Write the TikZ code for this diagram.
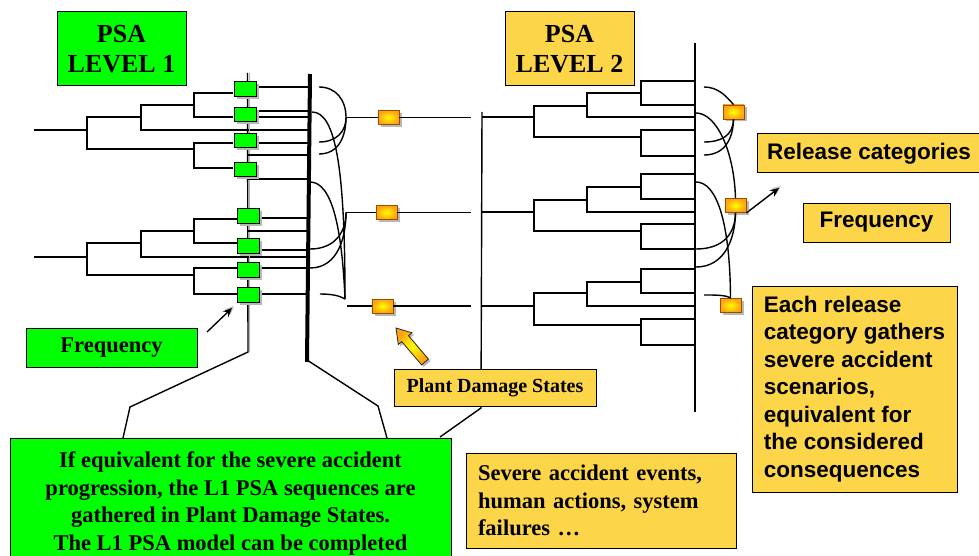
\documentclass[tikz,border=0pt]{standalone}
\usepackage{fontspec}
\setmainfont{Liberation Serif}
\newfontfamily\labelsans{Liberation Sans}
\usetikzlibrary{shadows,arrows.meta}
\definecolor{psagreen}{RGB}{0,255,0}
\definecolor{psayellow}{RGB}{252,213,72}
\definecolor{pdsorange}{RGB}{255,160,20}
\definecolor{pdsedge}{RGB}{150,80,0}
\begin{document}
\begin{tikzpicture}[x=1pt,y=-1pt,
  wire/.style={line width=1.4pt},
  boxshadow/.style={drop shadow={shadow xshift=2.5pt,shadow yshift=-2.5pt,fill=black!28,opacity=1}},
  seqbox/.style={draw, line width=0.9pt, fill=psagreen, minimum width=22pt, minimum height=14.5pt, inner sep=0pt, boxshadow},
  pdsbox/.style={draw=pdsedge, line width=0.9pt, inner color=yellow, outer color=pdsorange, minimum width=21pt, minimum height=14pt, inner sep=0pt, boxshadow},
  titlebox/.style={draw, line width=1pt, minimum width=129pt, minimum height=74pt, inner sep=0pt, align=center, font=\bfseries\fontsize{26}{30}\selectfont},
  serifnote/.style={draw, line width=1pt, fill=psayellow, inner sep=0pt, font=\bfseries\fontsize{22.5}{27.5}\selectfont},
  sansnote/.style={draw, line width=1pt, fill=psayellow, inner sep=0pt, font=\labelsans\bfseries\fontsize{22.5}{27.5}\selectfont},
  pointer/.style={line width=1.3pt, -{Stealth[length=9pt,width=8pt]}},
  pointershade/.style={line width=1.3pt, black!25, -{Stealth[length=9pt,width=8pt]}},
]
\useasboundingbox (0,0) rectangle (979,556);
\clip (0,0) rectangle (979,556);

% ---------- Level 1 event trees ----------
% upper tree
\draw[wire] (34,130) -- (87,130);
\draw[wire] (141,117) -| (87,149) -- (194,149);
\draw[wire] (194,105) -| (141,130) -- (308,130);
\draw[wire] (233,93) -| (194,117) -- (233,117);
\draw[wire] (233,143) -| (194,168) -- (233,168);
% lower tree
\draw[wire] (34,257) -- (87,257);
\draw[wire] (141,243) -| (87,275) -- (194,275);
\draw[wire] (194,231) -| (141,257) -- (307,257);
\draw[wire] (238,219) -| (194,243) -- (238,243);
\draw[wire] (238,268) -| (194,294) -- (238,294);

% sequence end line and bracket down to the note
\draw[line width=1.4pt, black!30] (249.5,73) -- (249.5,352);
\draw[wire] (247.5,73) -- (248,352) -- (130,407) -- (123,438);

% sequences reaching the plant damage state line
\foreach \y in {87,111,117,143} \draw[wire] (255,\y) -- (308,\y);
\foreach \y in {155,179,231} \draw[wire] (248,\y) -- (308,\y);
\foreach \y in {218,250,268,294} \draw[wire] (259,\y) -- (307,\y);

% heavy grouping line
\draw[line width=4pt] (310,74) -- (307,362);
\draw[wire] (307,360) -- (378,406) -- (387,438);

% grouping of L1 sequences into plant damage states
\coordinate (j1) at (346,117.5);
\coordinate (j2) at (346,212.5);
\coordinate (j3) at (345,299);
\draw[wire] (319,87) .. controls (336,87) and (346,100) .. (j1);
\draw[wire] (319,142) .. controls (336,142) and (346,132) .. (j1);
\draw[wire] (319,154) .. controls (339,154) and (346,136) .. (j1);
\draw[wire] (312,112) .. controls (336,112) and (345,170) .. (j3);
\draw[wire] (310,182) .. controls (332,182) and (342,228) .. (j3);
\draw[wire] (310,249) .. controls (335,249) and (346,232) .. (j2);
\draw[wire] (310,268) .. controls (338,268) and (346,237) .. (j2);
\draw[wire] (320,294) .. controls (333,294) and (340,296) .. (j3);

% plant damage state boxes
\node[pdsbox] (pds1) at (388.5,117.5) {};
\node[pdsbox] (pds2) at (386.5,212.5) {};
\node[pdsbox] (pds3) at (382.5,306) {};
\draw[wire] (j1) -- (pds1.west);
\draw[wire] (j2) -- (pds2.west);
\draw[wire] (347,306) -- (pds3.west);
\draw[wire] (pds1.east) -- (471,117.5);
\draw[wire] (pds2.east) -- (471,212.5);
\draw[wire] (pds3.east) -- (471,306);

% ---------- Level 2 trees ----------
\draw[wire] (482,112) -- (481,408) -- (440,437);
\draw[wire] (695,43) -- (695,412);
% tree 1
\draw[wire] (482,117) -- (534,117);
\draw[wire] (587,106) -| (534,137) -- (641,137);
\draw[wire] (641,93) -| (587,117) -- (695,117);
\draw[wire] (695,81) -| (641,105) -- (695,105);
\draw[wire] (695,130) -| (641,156) -- (695,156);
% tree 2
\draw[wire] (482,212) -- (534,212);
\draw[wire] (587,200) -| (534,231) -- (641,231);
\draw[wire] (641,187) -| (587,212) -- (695,212);
\draw[wire] (695,174) -| (641,199) -- (695,199);
\draw[wire] (695,224) -| (641,249) -- (695,249);
% tree 3
\draw[wire] (482,306) -- (534,306);
\draw[wire] (587,293) -| (534,325) -- (641,325);
\draw[wire] (641,282) -| (587,306) -- (695,306);
\draw[wire] (695,269) -| (641,293) -- (695,293);
\draw[wire] (695,319) -| (641,345) -- (695,345);

% release category boxes and their grouping curves
\node[pdsbox] (rc1) at (733.5,112) {};
\node[pdsbox] (rc2) at (735.5,205.5) {};
\node[pdsbox] (rc3) at (730.5,305.5) {};
\draw[wire] (704,87) .. controls (718,87) and (726,96) .. (rc1.north);
\draw[wire] (704,142) .. controls (722,142) and (733,135) .. (rc1.south);
\draw[wire] (704,155) .. controls (724,155) and (733,140) .. (rc1.south);
\draw[wire] (696,113) .. controls (716,113) and (734,150) .. (rc2.north);
\draw[wire] (696,249) .. controls (722,249) and (735,235) .. (rc2.south);
\draw[wire] (696,267) .. controls (724,267) and (735,240) .. (rc2.south);
\draw[wire] (696,182) .. controls (716,182) and (730,220) .. (rc3.north);
\draw[wire] (704,295) .. controls (716,295) and (726,295) .. (rc3.north);

% ---------- sequence boxes ----------
\node[seqbox] (s1) at (245,89) {};
\node[seqbox] (s2) at (245,114.5) {};
\node[seqbox] (s3) at (245,140.5) {};
\node[seqbox] (s4) at (245,169.5) {};
\node[seqbox] (s5) at (248.5,216) {};
\node[seqbox] (s6) at (248.5,246) {};
\node[seqbox] (s7) at (248.5,270) {};
\node[seqbox] (s8) at (248.5,295) {};

% ---------- titles and notes ----------
\node[titlebox, fill=psagreen] (lvl1) at (121.5,49) {PSA\\LEVEL 1};
\node[titlebox, fill=psayellow] (lvl2) at (569.5,49) {PSA\\LEVEL 2};

\node[serifnote, fill=psagreen, minimum width=171pt, minimum height=39pt] (freq1) at (111.5,347.5) {Frequency};
\coordinate (f1tail) at (207,332);
\coordinate (f1tip) at (232,308);
\draw[pointershade] ([shift={(2pt,2pt)}]f1tail) -- ([shift={(2pt,2pt)}]f1tip);
\draw[pointer] (f1tail) -- (f1tip);

\node[serifnote, minimum width=202pt, minimum height=37pt, font=\bfseries\fontsize{20}{24}\selectfont] (pdslabel) at (495,387.5) {Plant Damage States};
% block arrow from the label up to the damage state box
\fill[black!28] (398,330) -- (414,334.8) -- (410.5,337.7) -- (430.4,361.1) -- (423.6,366.9) -- (403.7,343.6) -- (400.3,346.5) -- cycle;
\path[draw=black!85, line width=0.8pt, line join=miter, inner color=yellow, outer color=pdsorange]
  (396,328) -- (412,332.8) -- (408.5,335.7) -- (428.4,359.1) -- (421.6,364.9) -- (401.7,341.6) -- (398.3,344.5) -- cycle;

\node[sansnote, minimum width=224pt, minimum height=39pt] (relcat) at (869,153.5) {Release categories};
\node[sansnote, minimum width=147pt, minimum height=39pt] (freq2) at (876.5,222.5) {Frequency};
\coordinate (f2tip) at (779,188);
\draw[pointershade] ([shift={(2pt,2pt)}]rc2.south east) -- ([shift={(2pt,2pt)}]f2tip);
\draw[pointer] (rc2.south east) -- (f2tip);

\node[sansnote, align=left, minimum width=205pt, minimum height=206pt] (gather) at (854.5,389)
  {Each release\\category gathers\\severe accident\\scenarios,\\equivalent for\\the considered\\consequences};

\node[serifnote, align=left, text width=246pt, inner xsep=12pt, minimum height=95pt] (l2events) at (601,500.5)
  {Severe accident events,\\human actions, system\\failures …};

\node[serifnote, fill=psagreen, anchor=north, minimum width=441pt, inner ysep=13.5pt, align=center] (l1note) at (230.5,438)
  {\parbox[t][190pt][t]{430pt}{\centering If equivalent for the severe accident\\progression, the L1 PSA sequences are\\gathered in Plant Damage States.\\The L1 PSA model can be completed}};
\end{tikzpicture}
\end{document}
